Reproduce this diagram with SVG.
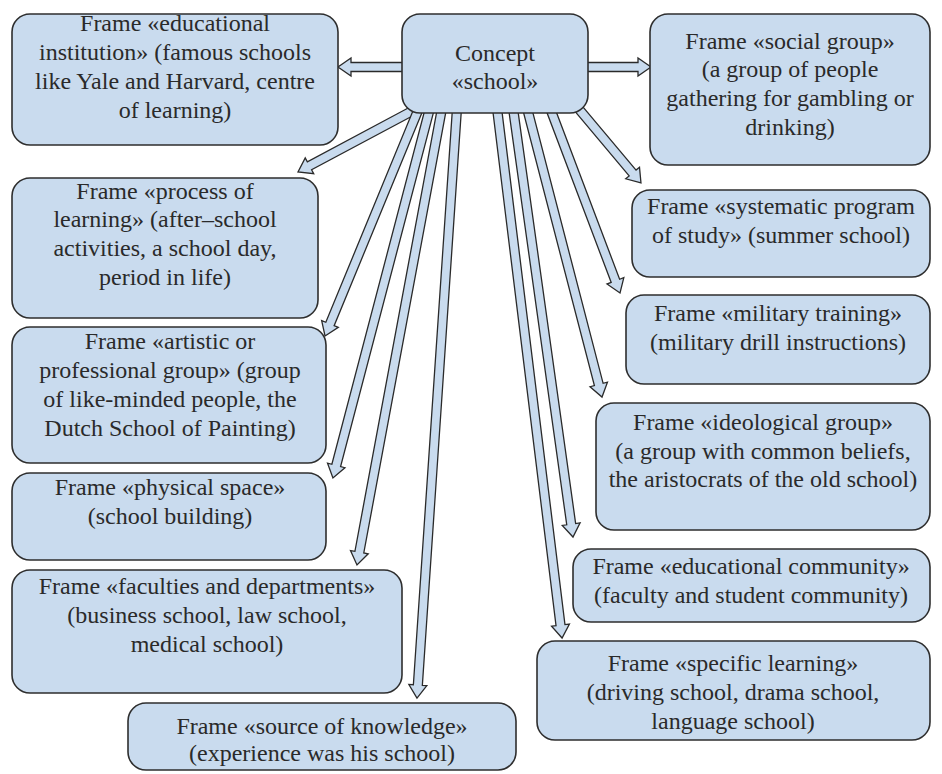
<svg xmlns="http://www.w3.org/2000/svg" width="942" height="774" viewBox="0 0 942 774">
<style>
.box{fill:#c9dbee;stroke:#2e2e2e;stroke-width:1.6}
.arr{fill:#c9dbee;stroke:#2a2a2a;stroke-width:1.3;stroke-linejoin:miter}
text{font-family:"Liberation Serif","Times New Roman",serif;font-size:24px;fill:#2a2a2a;text-anchor:middle}
</style>
<rect width="942" height="774" fill="#ffffff"/>
<g id="connectors">
<path class="arr" transform="translate(405,67) rotate(180)" d="M0,-4.5 L54,-4.5 L54,-9 L67,0 L54,9 L54,4.5 L0,4.5 Z"/>
<path class="arr" transform="translate(585,67)" d="M0,-4.5 L53,-4.5 L53,-9 L66,0 L53,9 L53,4.5 L0,4.5 Z"/>
<path class="arr" transform="translate(414,110) rotate(151.9)" d="M0,-4.5 L118.5,-4.5 L118.5,-9 L131.5,0 L118.5,9 L118.5,4.5 L0,4.5 Z"/>
<path class="arr" transform="translate(419,108) rotate(112.4)" d="M0,-4.5 L233.6,-4.5 L233.6,-9 L246.6,0 L233.6,9 L233.6,4.5 L0,4.5 Z"/>
<path class="arr" transform="translate(430,108) rotate(104.7)" d="M0,-4.5 L369.5,-4.5 L369.5,-9 L382.5,0 L369.5,9 L369.5,4.5 L0,4.5 Z"/>
<path class="arr" transform="translate(442,108) rotate(100.54)" d="M0,-4.5 L451.8,-4.5 L451.8,-9 L464.8,0 L451.8,9 L451.8,4.5 L0,4.5 Z"/>
<path class="arr" transform="translate(457,108) rotate(93.88)" d="M0,-4.5 L578.4,-4.5 L578.4,-9 L591.4,0 L578.4,9 L578.4,4.5 L0,4.5 Z"/>
<path class="arr" transform="translate(497,108) rotate(83.0)" d="M0,-4.5 L521,-4.5 L521,-9 L534,0 L521,9 L521,4.5 L0,4.5 Z"/>
<path class="arr" transform="translate(513,108) rotate(82.04)" d="M0,-4.5 L420.2,-4.5 L420.2,-9 L433.2,0 L420.2,9 L420.2,4.5 L0,4.5 Z"/>
<path class="arr" transform="translate(527,108) rotate(75.45)" d="M0,-4.5 L285.6,-4.5 L285.6,-9 L298.6,0 L285.6,9 L285.6,4.5 L0,4.5 Z"/>
<path class="arr" transform="translate(550,108) rotate(69.27)" d="M0,-4.5 L184.8,-4.5 L184.8,-9 L197.8,0 L184.8,9 L184.8,4.5 L0,4.5 Z"/>
<path class="arr" transform="translate(578,108) rotate(49.97)" d="M0,-4.5 L84.9,-4.5 L84.9,-9 L97.9,0 L84.9,9 L84.9,4.5 L0,4.5 Z"/>
</g>
<g id="concept">
<rect class="box" x="402" y="14" width="186" height="99" rx="18"/>
<text x="495" y="61">Concept</text>
<text x="495" y="89">«school»</text>
</g>
<g id="educational-institution">
<rect class="box" x="12" y="14" width="326" height="131" rx="18"/>
<text x="175" y="31">Frame «educational</text>
<text x="175" y="60">institution» (famous schools</text>
<text x="175" y="89">like Yale and Harvard, centre</text>
<text x="175" y="118">of learning)</text>
</g>
<g id="social-group">
<rect class="box" x="650" y="14" width="280" height="151" rx="18"/>
<text x="790" y="49">Frame «social group»</text>
<text x="790" y="77">(a group of people</text>
<text x="790" y="106">gathering for gambling or</text>
<text x="790" y="135">drinking)</text>
</g>
<g id="process-of-learning">
<rect class="box" x="12" y="178" width="306" height="140" rx="18"/>
<text x="165" y="199">Frame «process of</text>
<text x="165" y="227">learning» (after–school</text>
<text x="165" y="256">activities, a school day,</text>
<text x="165" y="285">period in life)</text>
</g>
<g id="systematic-program">
<rect class="box" x="632" y="190" width="298" height="87" rx="18"/>
<text x="781" y="214">Frame «systematic program</text>
<text x="781" y="243">of study» (summer school)</text>
</g>
<g id="artistic-group">
<rect class="box" x="12" y="327" width="314" height="136" rx="18"/>
<text x="170" y="349">Frame «artistic or</text>
<text x="170" y="378">professional group» (group</text>
<text x="170" y="407">of like-minded people, the</text>
<text x="170" y="436">Dutch School of Painting)</text>
</g>
<g id="military-training">
<rect class="box" x="626" y="295" width="304" height="89" rx="18"/>
<text x="778" y="321">Frame «military training»</text>
<text x="778" y="350">(military drill instructions)</text>
</g>
<g id="physical-space">
<rect class="box" x="12" y="473" width="314" height="87" rx="18"/>
<text x="170" y="495">Frame «physical space»</text>
<text x="170" y="524">(school building)</text>
</g>
<g id="ideological-group">
<rect class="box" x="596" y="403" width="334" height="127" rx="18"/>
<text x="763" y="430">Frame «ideological group»</text>
<text x="763" y="459">(a group with common beliefs,</text>
<text x="763" y="487">the aristocrats of the old school)</text>
</g>
<g id="faculties-departments">
<rect class="box" x="12" y="570" width="390" height="123" rx="18"/>
<text x="207" y="594">Frame «faculties and departments»</text>
<text x="207" y="623">(business school, law school,</text>
<text x="207" y="652">medical school)</text>
</g>
<g id="educational-community">
<rect class="box" x="573" y="549" width="357" height="73" rx="18"/>
<text x="751" y="574">Frame «educational community»</text>
<text x="751" y="603">(faculty and student community)</text>
</g>
<g id="specific-learning">
<rect class="box" x="537" y="641" width="393" height="99" rx="18"/>
<text x="733" y="671">Frame «specific learning»</text>
<text x="733" y="700">(driving school, drama school,</text>
<text x="733" y="729">language school)</text>
</g>
<g id="source-of-knowledge">
<rect class="box" x="128" y="703" width="388" height="67" rx="18"/>
<text x="322" y="734">Frame «source of knowledge»</text>
<text x="322" y="761">(experience was his school)</text>
</g>
</svg>
